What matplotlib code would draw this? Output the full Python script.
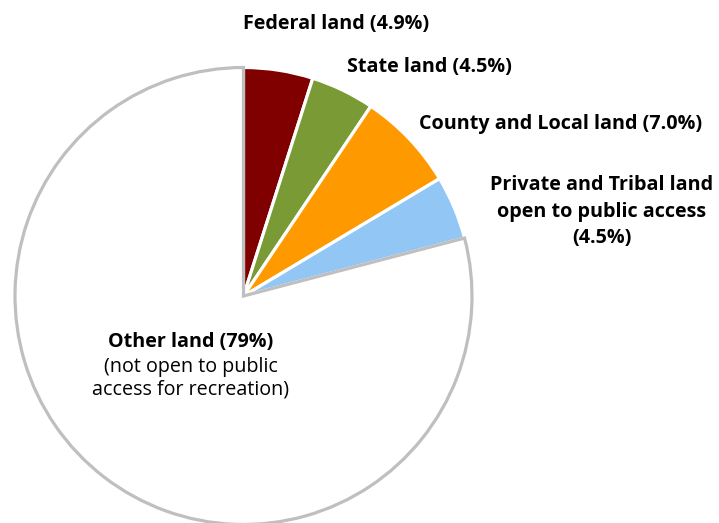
import matplotlib
matplotlib.use("Agg")
import matplotlib.pyplot as plt

# shares of land area by ownership / access (%)
names = ["Federal land", "State land", "County and Local land",
         "Private and Tribal land\nopen to public access", "Other land"]
shares = [4.9, 4.5, 7.0, 4.5, 79.0]
colors = ["#800000", "#7A9A35", "#FF9900", "#92C6F5", "#FFFFFF"]
other_note = ["(not open to public", "access for recreation)"]

plt.rcParams['font.family'] = ['Open Sans', 'DejaVu Sans']

W, H = 719, 523
fig = plt.figure(figsize=(W / 100, H / 100), dpi=100)
ax = fig.add_axes([0, 0, 1, 1])

# pie in pixel units (y going up)
cx, cy, r = 243.5, H - 296, 228.5
wedges, _ = ax.pie(shares, colors=colors, startangle=90, counterclock=False,
                   center=(cx, cy), radius=r,
                   wedgeprops=dict(edgecolor="white", linewidth=2.3))
wedges[-1].set_edgecolor("#BFBFBF")
wedges[-1].set_linewidth(2.3)

ax.set_xlim(0, W)
ax.set_ylim(0, H)
ax.set_aspect("equal")
ax.axis("off")

fs = 14.2
bold = dict(ha="center", va="center", fontsize=fs, fontweight="bold")
lbl = [f"{n} ({v:.1f}%)" for n, v in zip(names[:3], shares[:3])]
ax.text(336, H - 24, lbl[0], **bold)
ax.text(429, H - 67, lbl[1], **bold)
ax.text(561, H - 124, lbl[2], **bold)

# private/tribal label on three lines
priv = names[3].split("\n") + [f"({shares[3]:.1f}%)"]
for i, line in enumerate(priv):
    ax.text(602, H - 185 - 26.5 * i, line, **bold)

ax.text(191, H - 342, f"{names[4]} ({shares[4]:.0f}%)", **bold)
ax.text(191, H - 367, other_note[0], ha="center", va="center", fontsize=fs)
ax.text(191, H - 390, other_note[1], ha="center", va="center", fontsize=fs)

fig.savefig("out.png", dpi=100)
